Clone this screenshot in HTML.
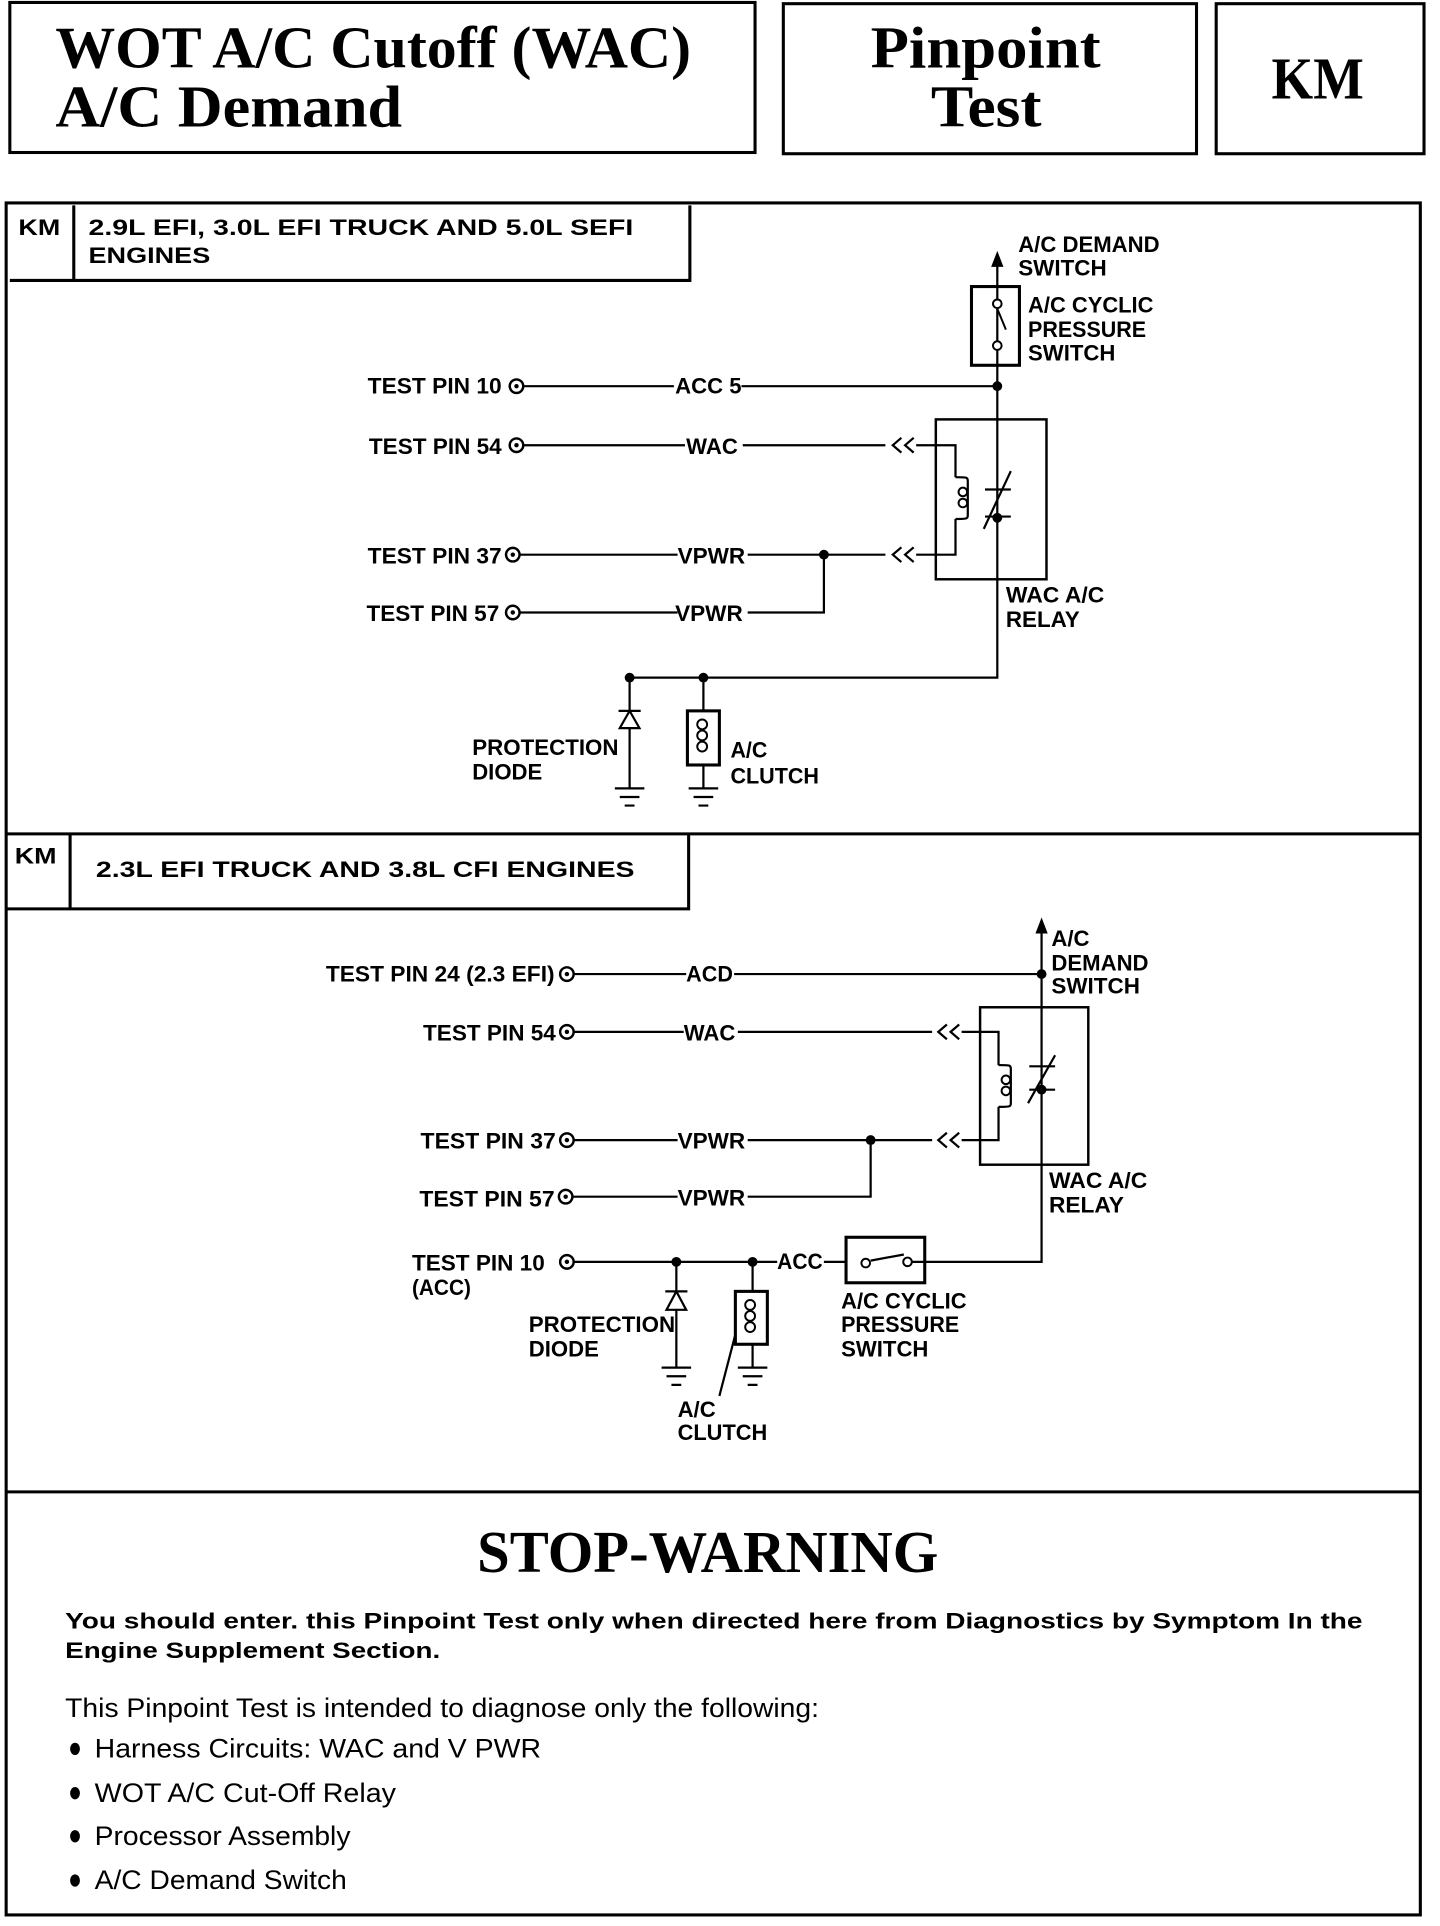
<!DOCTYPE html>
<html><head><meta charset="utf-8"><style>
html,body{margin:0;padding:0;background:#fff;}
svg{display:block;}
.s{font-family:"Liberation Sans",sans-serif;font-weight:bold;font-size:18px;fill:#000;}
.h{font-family:"Liberation Serif",serif;font-weight:bold;fill:#000;}
</style></head><body>
<svg width="1440" height="1926" viewBox="0 0 1171 1566" preserveAspectRatio="none" xmlns="http://www.w3.org/2000/svg" lengthAdjust="spacingAndGlyphs">
<g fill="none" stroke="#000" stroke-width="2.5">
<rect x="8" y="2" width="606" height="122"/>
<rect x="637" y="3" width="336" height="122"/>
<rect x="989" y="3" width="169" height="122"/>
<rect x="5" y="165" width="1150" height="1392"/>
<path d="M8 228H561V167M60 167V228"/>
<path d="M5 678H1155M5 739H560V678M57 678V739"/>
<path d="M5 1213H1155"/>
</g>
<text class="h" x="45" y="55" font-size="48" textLength="517" lengthAdjust="spacingAndGlyphs">WOT A/C Cutoff (WAC)</text>
<text class="h" x="45" y="103" font-size="48" textLength="282" lengthAdjust="spacingAndGlyphs">A/C Demand</text>
<text class="h" x="708" y="55" font-size="48" textLength="187" lengthAdjust="spacingAndGlyphs">Pinpoint</text>
<text class="h" x="757" y="103" font-size="48" textLength="90" lengthAdjust="spacingAndGlyphs">Test</text>
<text class="h" x="1034" y="80" font-size="48" textLength="75" lengthAdjust="spacingAndGlyphs">KM</text>
<text class="s" x="15" y="191" font-size="20" textLength="34" lengthAdjust="spacingAndGlyphs">KM</text>
<text class="s" x="72" y="191" font-size="20" textLength="443" lengthAdjust="spacingAndGlyphs">2.9L EFI, 3.0L EFI TRUCK AND 5.0L SEFI</text>
<text class="s" x="72" y="214" font-size="20" textLength="99" lengthAdjust="spacingAndGlyphs">ENGINES</text>
<text class="s" x="12" y="702" font-size="20" textLength="34" lengthAdjust="spacingAndGlyphs">KM</text>
<text class="s" x="78" y="713" font-size="20" textLength="438" lengthAdjust="spacingAndGlyphs">2.3L EFI TRUCK AND 3.8L CFI ENGINES</text>

<!-- diagram 1 -->
<g fill="none" stroke="#000" stroke-width="1.8">
<path d="M811 214V551H512"/>
<rect x="790" y="233" width="39" height="64" stroke-width="2.5"/>
<path d="M426 314H548M603 314H811"/>
<path d="M426 362H557M604 362H720M745 362H777V388M777 422V451H745M720 451H608M551 451H423"/>
<path d="M670 451V498H608M551 498H423"/>
<rect x="761" y="341" width="90" height="130" stroke-width="2"/>
<path d="M777 388c10 0 10 0 10 4v26c0 4 0 4-10 4"/>
<path d="M800 430L822 383M801 398H822M801 420H822"/>
<path d="M733 356l-7 6 7 6M743 356l-7 6 7 6M733 445l-7 6 7 6M743 445l-7 6 7 6"/>
<path d="M512 551V641M572 551V641"/>
<rect x="559" y="578" width="26" height="44" fill="#fff" stroke-width="2.5"/>
<path d="M500 641h24M504 648h16M508 655h8M560 641h24M564 648h16M568 655h8"/>
<path d="M503 578h18"/>
</g>
<polygon points="512,578 504,592 520,592" fill="#fff" stroke="#000" stroke-width="1.8"/>
<g fill="none" stroke="#000" stroke-width="1.6">
<circle cx="811" cy="247" r="3.5" fill="#fff"/><circle cx="811" cy="281" r="3.5" fill="#fff"/>
<path d="M811 251L818 268"/>
<circle cx="783" cy="400" r="3.5"/><circle cx="783" cy="409" r="3.5"/>
<circle cx="571" cy="589" r="4"/><circle cx="571" cy="598" r="4"/><circle cx="571" cy="607" r="4"/>
<circle cx="420" cy="314" r="5.5" stroke-width="2"/><circle cx="420" cy="362" r="5.5" stroke-width="2"/>
<circle cx="417" cy="451" r="5.5" stroke-width="2"/><circle cx="417" cy="498" r="5.5" stroke-width="2"/>
</g>
<g fill="#000">
<polygon points="811,204 806,217 816,217"/>
<circle cx="811" cy="314" r="4"/><circle cx="670" cy="451" r="4"/><circle cx="811" cy="421" r="4"/>
<circle cx="512" cy="551" r="4"/><circle cx="572" cy="551" r="4"/>
<circle cx="420" cy="314" r="1.8"/><circle cx="420" cy="362" r="1.8"/><circle cx="417" cy="451" r="1.8"/><circle cx="417" cy="498" r="1.8"/>
</g>
<g lengthAdjust="spacingAndGlyphs">
<text class="s" x="828" y="205" textLength="115" lengthAdjust="spacingAndGlyphs">A/C DEMAND</text><text class="s" x="828" y="224" textLength="72" lengthAdjust="spacingAndGlyphs">SWITCH</text>
<text class="s" x="836" y="254" textLength="102" lengthAdjust="spacingAndGlyphs">A/C CYCLIC</text><text class="s" x="836" y="274" textLength="96" lengthAdjust="spacingAndGlyphs">PRESSURE</text><text class="s" x="836" y="293" textLength="71" lengthAdjust="spacingAndGlyphs">SWITCH</text>
<text class="s" x="299" y="320" textLength="109" lengthAdjust="spacingAndGlyphs">TEST PIN 10</text>
<text class="s" x="300" y="369" textLength="108" lengthAdjust="spacingAndGlyphs">TEST PIN 54</text>
<text class="s" x="299" y="458" textLength="109" lengthAdjust="spacingAndGlyphs">TEST PIN 37</text>
<text class="s" x="298" y="505" textLength="108" lengthAdjust="spacingAndGlyphs">TEST PIN 57</text>
<text class="s" x="549" y="320" textLength="54" lengthAdjust="spacingAndGlyphs">ACC 5</text>
<text class="s" x="558" y="369" textLength="42" lengthAdjust="spacingAndGlyphs">WAC</text>
<text class="s" x="551" y="458" textLength="55" lengthAdjust="spacingAndGlyphs">VPWR</text>
<text class="s" x="549" y="505" textLength="55" lengthAdjust="spacingAndGlyphs">VPWR</text>
<text class="s" x="818" y="490" textLength="80" lengthAdjust="spacingAndGlyphs">WAC A/C</text><text class="s" x="818" y="510" textLength="60" lengthAdjust="spacingAndGlyphs">RELAY</text>
<text class="s" x="384" y="614" textLength="119" lengthAdjust="spacingAndGlyphs">PROTECTION</text><text class="s" x="384" y="634" textLength="57" lengthAdjust="spacingAndGlyphs">DIODE</text>
<text class="s" x="594" y="616" textLength="30" lengthAdjust="spacingAndGlyphs">A/C</text><text class="s" x="594" y="637" textLength="72" lengthAdjust="spacingAndGlyphs">CLUTCH</text>
</g>

<!-- diagram 2 -->
<g fill="none" stroke="#000" stroke-width="1.8">
<path d="M847 757V1026H752M688 1026H670M632 1026H467"/>
<path d="M467 792H558M597 792H847"/>
<path d="M467 839H556M600 839H758M782 839H812V866M812 900V927H782M758 927H608M551 927H467"/>
<path d="M708 927V973H608M551 973H466"/>
<rect x="797" y="819" width="88" height="128" stroke-width="2"/>
<path d="M812 866c10 0 10 0 10 4v26c0 4 0 4-10 4"/>
<path d="M836 897L858 858M837 867H858M837 886H858"/>
<path d="M770 833l-7 6 7 6M780 833l-7 6 7 6M770 921l-7 6 7 6M780 921l-7 6 7 6"/>
<rect x="688" y="1006" width="64" height="37" stroke-width="2.5"/>
<path d="M704 1026H707M708 1025L735 1020M740 1026H752"/>
<path d="M550 1026V1112M612 1026V1112"/>
<rect x="598" y="1050" width="26" height="43" fill="#fff" stroke-width="2.5"/>
<path d="M538 1112h24M542 1119h16M546 1126h8M600 1112h24M604 1119h16M608 1126h8"/>
<path d="M541 1050h18"/>
<path d="M585 1135L598 1085"/>
</g>
<polygon points="550,1050 542,1065 558,1065" fill="#fff" stroke="#000" stroke-width="1.8"/>
<g fill="none" stroke="#000" stroke-width="1.6">
<circle cx="704" cy="1027" r="3.5" fill="#fff"/><circle cx="738" cy="1026" r="3.5" fill="#fff"/>
<circle cx="818" cy="878" r="3.5"/><circle cx="818" cy="887" r="3.5"/>
<circle cx="610" cy="1061" r="4"/><circle cx="610" cy="1070" r="4"/><circle cx="610" cy="1079" r="4"/>
<circle cx="461" cy="792" r="5.5" stroke-width="2"/><circle cx="461" cy="839" r="5.5" stroke-width="2"/>
<circle cx="461" cy="927" r="5.5" stroke-width="2"/><circle cx="460" cy="973" r="5.5" stroke-width="2"/>
<circle cx="461" cy="1026" r="5.5" stroke-width="2"/>
</g>
<g fill="#000">
<polygon points="847,746 842,759 852,759"/>
<circle cx="847" cy="792" r="4"/><circle cx="708" cy="927" r="4"/><circle cx="847" cy="886" r="4"/>
<circle cx="550" cy="1026" r="4"/><circle cx="612" cy="1026" r="4"/>
<circle cx="461" cy="792" r="1.8"/><circle cx="461" cy="839" r="1.8"/><circle cx="461" cy="927" r="1.8"/><circle cx="460" cy="973" r="1.8"/><circle cx="461" cy="1026" r="1.8"/>
</g>
<text class="s" x="855" y="769" textLength="31" lengthAdjust="spacingAndGlyphs">A/C</text><text class="s" x="855" y="789" textLength="79" lengthAdjust="spacingAndGlyphs">DEMAND</text><text class="s" x="855" y="808" textLength="72" lengthAdjust="spacingAndGlyphs">SWITCH</text>
<text class="s" x="265" y="798" textLength="186" lengthAdjust="spacingAndGlyphs">TEST PIN 24 (2.3 EFI)</text>
<text class="s" x="344" y="846" textLength="108" lengthAdjust="spacingAndGlyphs">TEST PIN 54</text>
<text class="s" x="342" y="934" textLength="110" lengthAdjust="spacingAndGlyphs">TEST PIN 37</text>
<text class="s" x="341" y="981" textLength="110" lengthAdjust="spacingAndGlyphs">TEST PIN 57</text>
<text class="s" x="335" y="1033" textLength="108" lengthAdjust="spacingAndGlyphs">TEST PIN 10</text><text class="s" x="335" y="1053" textLength="48" lengthAdjust="spacingAndGlyphs">(ACC)</text>
<text class="s" x="558" y="798" textLength="38" lengthAdjust="spacingAndGlyphs">ACD</text>
<text class="s" x="556" y="846" textLength="42" lengthAdjust="spacingAndGlyphs">WAC</text>
<text class="s" x="551" y="934" textLength="55" lengthAdjust="spacingAndGlyphs">VPWR</text>
<text class="s" x="551" y="980" textLength="55" lengthAdjust="spacingAndGlyphs">VPWR</text>
<text class="s" x="632" y="1032" textLength="37" lengthAdjust="spacingAndGlyphs">ACC</text>
<text class="s" x="853" y="966" textLength="80" lengthAdjust="spacingAndGlyphs">WAC A/C</text><text class="s" x="853" y="986" textLength="61" lengthAdjust="spacingAndGlyphs">RELAY</text>
<text class="s" x="684" y="1064" textLength="102" lengthAdjust="spacingAndGlyphs">A/C CYCLIC</text><text class="s" x="684" y="1083" textLength="96" lengthAdjust="spacingAndGlyphs">PRESSURE</text><text class="s" x="684" y="1103" textLength="71" lengthAdjust="spacingAndGlyphs">SWITCH</text>
<text class="s" x="430" y="1083" textLength="119" lengthAdjust="spacingAndGlyphs">PROTECTION</text><text class="s" x="430" y="1103" textLength="57" lengthAdjust="spacingAndGlyphs">DIODE</text>
<text class="s" x="551" y="1152" textLength="31" lengthAdjust="spacingAndGlyphs">A/C</text><text class="s" x="551" y="1171" textLength="73" lengthAdjust="spacingAndGlyphs">CLUTCH</text>

<!-- warning -->
<text class="h" x="388" y="1278" font-size="48" textLength="375" lengthAdjust="spacingAndGlyphs">STOP-WARNING</text>
<text class="s" x="53" y="1324" font-size="21" textLength="1055" lengthAdjust="spacingAndGlyphs">You should enter. this Pinpoint Test only when directed here from Diagnostics by Symptom In the</text>
<text class="s" x="53" y="1348" font-size="21" textLength="305" lengthAdjust="spacingAndGlyphs">Engine Supplement Section.</text>
<g font-family="Liberation Sans, sans-serif" font-size="22" fill="#000">
<text x="53" y="1396" textLength="613" lengthAdjust="spacingAndGlyphs">This Pinpoint Test is intended to diagnose only the following:</text>
<text x="77" y="1429" textLength="363" lengthAdjust="spacingAndGlyphs">Harness Circuits: WAC and V PWR</text>
<text x="77" y="1465" textLength="245" lengthAdjust="spacingAndGlyphs">WOT A/C Cut-Off Relay</text>
<text x="77" y="1500" textLength="208" lengthAdjust="spacingAndGlyphs">Processor Assembly</text>
<text x="77" y="1536" textLength="205" lengthAdjust="spacingAndGlyphs">A/C Demand Switch</text>
<ellipse cx="61" cy="1422" rx="4" ry="5"/><ellipse cx="61" cy="1458" rx="4" ry="5"/>
<ellipse cx="61" cy="1493" rx="4" ry="5"/><ellipse cx="61" cy="1529" rx="4" ry="5"/>
</g>
</svg>
</body></html>
